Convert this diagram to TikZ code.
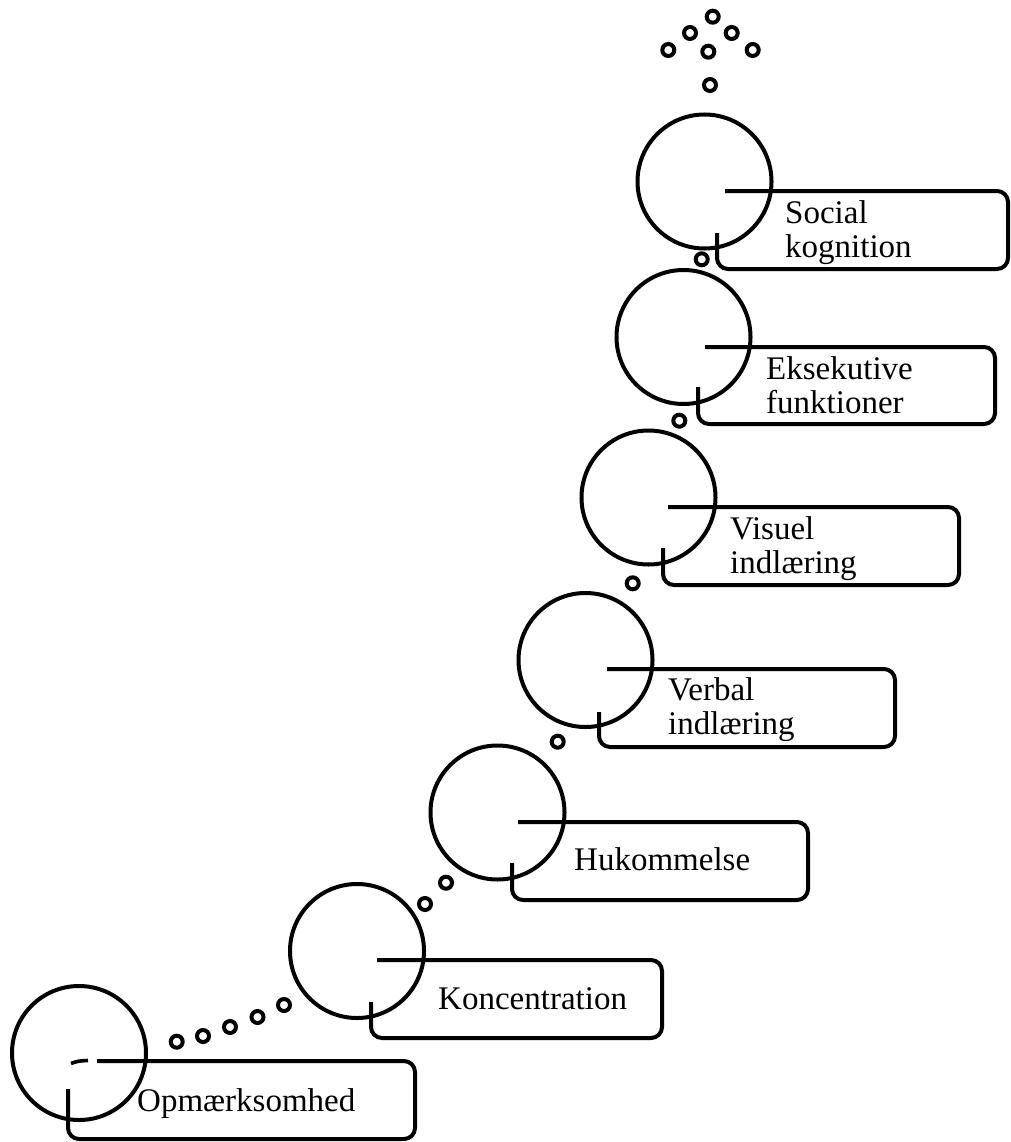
\documentclass[tikz,border=0pt]{standalone}
\usepackage{fontspec}
\setmainfont{Liberation Serif}
\begin{document}
\begin{tikzpicture}[x=1pt,y=-1pt,
  ring/.style={draw,circle,line width=4pt,minimum size=134pt,inner sep=0pt},
  bead/.style={draw,circle,fill=white,line width=4pt,minimum size=12pt,inner sep=0pt},
  tab/.style={line width=4pt,rounded corners=11pt},
  label/.style={anchor=base west,inner sep=0pt,align=left,
    font=\fontsize{33}{34}\selectfont}]
\useasboundingbox (0,0) rectangle (1010,1142);

% a step: ring at (cx,cy) and an open tab running from the ring's centre
% #1 name, #2 cx, #3 cy, #4 tab top, #5 tab start x, #6 tab left x,
% #7 left edge start y, #8 tab bottom, #9 tab right
\newcommand\stepring[9]{%
  \node[ring] (#1) at (#2,#3) {};
  \draw[tab] (#5,#4) -- (#9,#4) -- (#9,#8) -- (#6,#8) -- (#6,#7);
}

\stepring{opm}{79}{1053}{1061}{97}{68}{1089}{1139}{415}
\draw[line width=3.6pt] (71,1063.5) .. controls (78,1061) .. (88,1060.5);
\stepring{kon}{357}{951}{960}{377}{371}{1002}{1038}{662}
\stepring{huk}{497.5}{812.5}{822}{518}{512}{863}{900}{808}
\stepring{ver}{585.5}{660}{669}{607}{599}{712}{747}{895}
\stepring{vis}{648.5}{497.5}{507}{668}{663}{548}{585}{959}
\stepring{eks}{683.5}{337}{347}{705}{698}{387}{424}{995}
\stepring{soc}{704.5}{181.5}{191}{725}{717}{233}{269}{1008}

% labels (anchored on the baseline of their last line)
\node[label] (topm) at (137,1111) {Opmærksomhed};
\node[label] (tkon) at (438,1009) {Koncentration};
\node[label] (thuk) at (574,870) {Hukommelse};
\node[label] (tver) at (668,734) {Verbal\\indlæring};
\node[label] (tvis) at (730,573) {Visuel\\indlæring};
\node[label] (teks) at (766,413) {Eksekutive\\funktioner};
\node[label] (tsoc) at (785,257) {Social\\kognition};

% beads between the rings
\node[bead] (b1) at (176.7,1041.7) {};
\node[bead] (b2) at (203,1036) {};
\node[bead] (b3) at (230,1027) {};
\node[bead] (b4) at (257.5,1017) {};
\node[bead] (b5) at (284,1005) {};
\node[bead] (b6) at (425,904) {};
\node[bead] (b7) at (446,882.7) {};
\node[bead] (b8) at (557.7,741.7) {};
\node[bead] (b9) at (632.7,583.3) {};
\node[bead] (b10) at (679.3,420.7) {};
\node[bead] (b11) at (701.7,259.3) {};
% beads above the top ring
\node[bead] (c1) at (710,85) {};
\node[bead] (c2) at (668.3,50) {};
\node[bead] (c3) at (708.3,51.7) {};
\node[bead] (c4) at (752.7,50) {};
\node[bead] (c5) at (690,33) {};
\node[bead] (c6) at (731.7,33) {};
\node[bead] (c7) at (712.7,16.7) {};
\end{tikzpicture}
\end{document}
